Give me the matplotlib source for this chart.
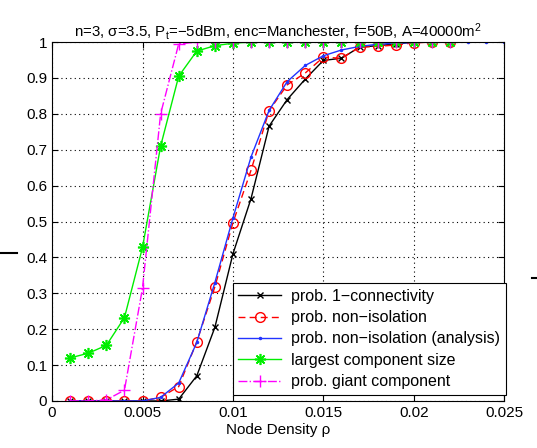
import matplotlib.pyplot as plt
from matplotlib.lines import Line2D
import numpy as np

plt.rcParams['font.family'] = ['Liberation Sans', 'DejaVu Sans']
plt.rcParams['mathtext.fontset'] = 'custom'
plt.rcParams['mathtext.rm'] = 'Liberation Sans'
plt.rcParams['mathtext.it'] = 'Liberation Sans'

# node density (simulation points)
rho = [0.001, 0.002, 0.003, 0.004, 0.005, 0.006, 0.007, 0.008, 0.009, 0.010, 0.011,
       0.012, 0.013, 0.014, 0.015, 0.016, 0.017, 0.018, 0.019, 0.020, 0.021, 0.022]
# analysis points
rho_an = [0.001, 0.002, 0.003, 0.004, 0.005, 0.006, 0.007, 0.008, 0.009, 0.010, 0.011,
          0.012, 0.013, 0.014, 0.015, 0.016, 0.017, 0.018, 0.019, 0.020, 0.021, 0.022,
          0.023, 0.024, 0.025]

conn1 = [0, 0, 0, 0, 0, 0, 0.005, 0.07, 0.205, 0.41, 0.564,
         0.766, 0.84, 0.897, 0.949, 0.955, 0.986, 0.99, 0.995, 1.0, 1.0, 1.0]
nonisol = [0, 0, 0, 0, 0, 0.01, 0.04, 0.165, 0.318, 0.497, 0.643,
           0.809, 0.881, 0.914, 0.958, 0.955, 0.986, 0.988, 0.992, 0.998, 1.0, 1.0]
nonisol_an = [0, 0, 0, 0, 0, 0.01, 0.05, 0.163, 0.33, 0.51, 0.68,
              0.81, 0.89, 0.935, 0.962, 0.978, 0.988, 0.994, 0.997, 0.999, 1.0, 1.0,
              1.0, 1.0, 1.0]
largest = [0.12, 0.133, 0.155, 0.232, 0.428, 0.71, 0.905, 0.975, 0.99, 0.997, 1.0,
           1.0, 1.0, 1.0, 1.0, 1.0, 1.0, 1.0, 1.0, 1.0, 1.0, 1.0]
giant = [0, 0, 0.003, 0.03, 0.315, 0.8, 0.995, 1.0, 1.0, 1.0, 1.0,
         1.0, 1.0, 1.0, 1.0, 1.0, 1.0, 1.0, 1.0, 1.0, 1.0, 1.0]

figure, ax = plt.subplots(1, 1, figsize=(5.37, 4.48), dpi=100)
figure.subplots_adjust(left=0.097, right=0.939, top=0.906, bottom=0.105)

ax.plot(rho, conn1, '-', color='black', linewidth=1.0, marker='x', markersize=5,
        label='prob. 1\u2212connectivity')
ax.plot(rho, nonisol, '--', color='red', linewidth=1.0, marker='o', markersize=7,
        markerfacecolor='none', dashes=(5, 3), label='prob. non\u2212isolation')
ax.plot(rho_an, nonisol_an, '-', color='#2233ff', linewidth=1.0, marker='.', markersize=3,
        label='prob. non\u2212isolation (analysis)')
ax.plot(rho, largest, '-', color='#00ee00', linewidth=1.0, marker=(8, 2, 0), markersize=8,
        markeredgewidth=1.2, label='largest component size')
ax.plot(rho, giant, '-.', color='magenta', linewidth=1.0, marker='+', markersize=9,
        label='prob. giant component')

ax.set_xlim(0, 0.025)
ax.set_ylim(0, 1)
ax.set_xticks(np.arange(0, 0.0251, 0.005))
ax.set_xticklabels(['0', '0.005', '0.01', '0.015', '0.02', '0.025'])
ax.set_yticks(np.arange(0, 1.01, 0.1))
ax.set_yticklabels(['0', '0.1', '0.2', '0.3', '0.4', '0.5', '0.6', '0.7', '0.8', '0.9', '1'])
ax.tick_params(axis='both', direction='in', top=True, right=True, labelsize=11, length=4)
ax.grid(True, linestyle=(0, (1, 3)), color='black', linewidth=0.8)

ax.set_xlabel('Node Density \u03c1', fontsize=11, labelpad=2)
ax.set_title('n=3, \u03c3=3.5, P$_\\mathrm{t}$=\u22125dBm, enc=Manchester, f=50B, A=40000m$^2$',
             fontsize=10.8, pad=4)

leg = ax.legend(loc='lower right', bbox_to_anchor=(1.003, 0.017), fontsize=11.5,
                framealpha=1, fancybox=False, edgecolor='black', borderaxespad=0,
                handlelength=2.7, labelspacing=0.4, borderpad=0.35, handletextpad=0.6)
leg.get_frame().set_linewidth(0.8)

# stray marks at the sides
figure.add_artist(Line2D([0.0, 0.032], [1 - 253 / 448, 1 - 253 / 448], color='black', linewidth=1.5))
figure.add_artist(Line2D([0.99, 1.0], [1 - 278 / 448, 1 - 278 / 448], color='black', linewidth=1.5))

plt.savefig('out.png', dpi=100)
